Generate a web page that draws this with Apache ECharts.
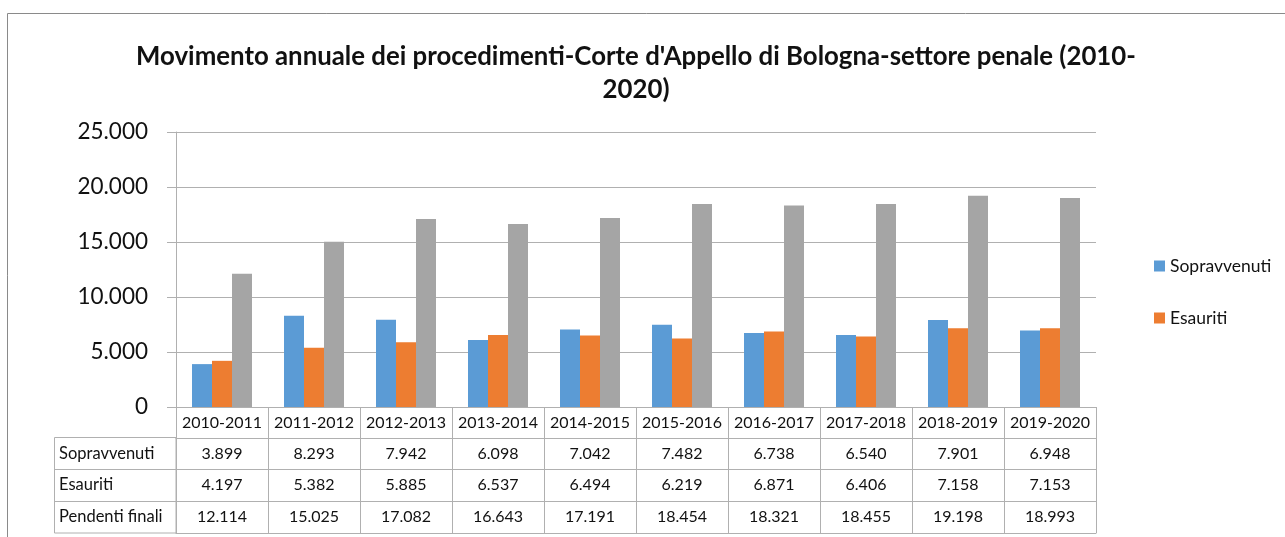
<!DOCTYPE html>
<html>
<head>
<meta charset="utf-8">
<script src="https://cdn.jsdelivr.net/npm/echarts@6/dist/echarts.min.js"></script>
<style>
  html, body { margin: 0; padding: 0; background: #fff; }
  #chart { width: 1285px; height: 537px; }
</style>
</head>
<body>
<div id="chart"></div>
<script>
const categories = ['2010-2011', '2011-2012', '2012-2013', '2013-2014', '2014-2015',
    '2015-2016', '2016-2017', '2017-2018', '2018-2019', '2019-2020'];
const sopravvenuti = [3899, 8293, 7942, 6098, 7042, 7482, 6738, 6540, 7901, 6948];
const esauriti = [4197, 5382, 5885, 6537, 6494, 6219, 6871, 6406, 7158, 7153];
const pendentiFinali = [12114, 15025, 17082, 16643, 17191, 18454, 18321, 18455, 19198, 18993];
const yTicks = [0, 5000, 10000, 15000, 20000, 25000];

const FONT = 'Lato';
const LINE = '#b0b0b0';
const TEXT = '#111';

// 12114 -> "12.114"
function fmt(v) {
    return String(v).replace(/\B(?=(\d{3})+(?!\d))/g, '.');
}

// one extra x axis per table row, stacked under the plot
function tableRow(name, values, offset, rowHeight) {
    return {
        type: 'category',
        gridIndex: 0,
        position: 'bottom',
        offset: offset,
        data: categories,
        name: name,
        nameLocation: 'start',
        nameGap: 117,
        nameTextStyle: {
            fontFamily: FONT, fontSize: 16.5, color: TEXT,
            align: 'left', verticalAlign: 'top', lineHeight: rowHeight
        },
        axisLine: { show: true, lineStyle: { color: LINE, width: 1 } },
        axisTick: { show: true, interval: 0, length: rowHeight, lineStyle: { color: LINE } },
        axisLabel: {
            interval: 0, margin: 0, fontFamily: FONT, fontSize: 16, color: TEXT,
            lineHeight: rowHeight,
            formatter: (v, i) => fmt(values[i])
        }
    };
}

const chart = echarts.init(document.getElementById('chart'));

const option = {
    animation: false,
    backgroundColor: '#fff',
    title: {
        text: "Movimento annuale dei procedimenti-Corte d'Appello di Bologna-settore penale (2010-\n2020)",
        left: 631,
        top: 35,
        textAlign: 'center',
        textStyle: { fontFamily: FONT, fontSize: 25.8, fontWeight: 'bold', color: TEXT, lineHeight: 33 }
    },
    legend: {
        data: ['Sopravvenuti', 'Esauriti'],
        orient: 'vertical',
        left: 1149,
        top: 252,
        itemWidth: 11,
        itemHeight: 11,
        itemGap: 34,
        icon: 'rect',
        textStyle: { fontFamily: FONT, fontSize: 17.5, color: TEXT }
    },
    grid: { left: 176, right: 189, top: 132, bottom: 130, containLabel: false },
    xAxis: [
        {
            type: 'category',
            data: categories,
            axisLine: { show: true, lineStyle: { color: LINE, width: 1 } },
            axisTick: { show: true, interval: 0, length: 31, lineStyle: { color: LINE } },
            axisLabel: { interval: 0, margin: 0, lineHeight: 31, fontFamily: FONT, fontSize: 16, color: TEXT }
        },
        tableRow('Sopravvenuti', sopravvenuti, 31, 31),
        tableRow('Esauriti', esauriti, 62, 32),
        tableRow('Pendenti finali', pendentiFinali, 94, 32),
        {
            type: 'category',
            gridIndex: 0,
            position: 'bottom',
            offset: 126,
            data: categories,
            axisLine: { show: true, lineStyle: { color: LINE, width: 1 } },
            axisTick: { show: false },
            axisLabel: { show: false }
        }
    ],
    yAxis: {
        type: 'value',
        min: yTicks[0],
        max: yTicks[yTicks.length - 1],
        interval: 5000,
        axisLine: { show: true, lineStyle: { color: LINE, width: 1 } },
        axisTick: { show: true, length: 9, lineStyle: { color: LINE } },
        splitLine: { show: true, lineStyle: { color: LINE, width: 1 } },
        axisLabel: {
            margin: 28, fontFamily: FONT, fontSize: 22.5, color: TEXT,
            formatter: v => fmt(v)
        }
    },
    series: [
        { name: 'Sopravvenuti', type: 'bar', data: sopravvenuti, barWidth: 20, barGap: '0%',
          itemStyle: { color: '#5B9BD5' } },
        { name: 'Esauriti', type: 'bar', data: esauriti, barWidth: 20, barGap: '0%',
          itemStyle: { color: '#ED7D31' } },
        { name: 'Pendenti finali', type: 'bar', data: pendentiFinali, barWidth: 20, barGap: '0%',
          itemStyle: { color: '#A5A5A5' } }
    ],
    graphic: [
        // chart frame (top and left edges are visible)
        { type: 'line', shape: { x1: 7.5, y1: 13.5, x2: 1285, y2: 13.5 }, style: { stroke: '#8a8a8a', lineWidth: 1 } },
        { type: 'line', shape: { x1: 7.5, y1: 13.5, x2: 7.5, y2: 537 }, style: { stroke: '#8a8a8a', lineWidth: 1 } },
        // row-label column of the data table
        { type: 'rect', shape: { x: 54.5, y: 437.5, width: 121.5, height: 95.5 },
          style: { fill: 'none', stroke: LINE, lineWidth: 1 } },
        { type: 'line', shape: { x1: 54.5, y1: 469.5, x2: 176, y2: 469.5 }, style: { stroke: LINE, lineWidth: 1 } },
        { type: 'line', shape: { x1: 54.5, y1: 501.5, x2: 176, y2: 501.5 }, style: { stroke: LINE, lineWidth: 1 } }
    ]
};

chart.setOption(option);
</script>
</body>
</html>
